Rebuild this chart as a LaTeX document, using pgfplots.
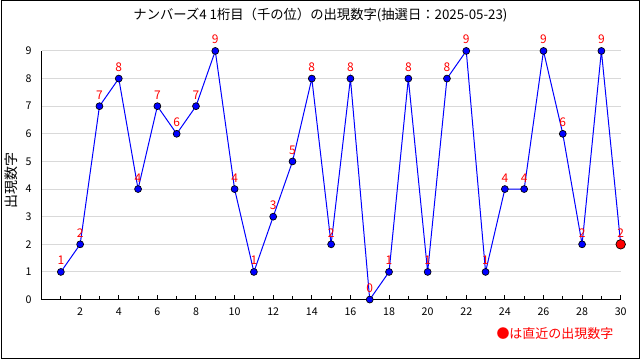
\documentclass[border=0pt]{standalone}
\usepackage{fontspec}
\setmainfont{Noto Sans CJK JP}
\usepackage{pgfplots}
\pgfplotsset{compat=1.18}
\begin{document}
\begin{tikzpicture}[x=1pt,y=1pt]
\draw[line width=0.75pt] (0.375,0.375) rectangle (479.625,269.625);
\begin{axis}[
  at={(30.5pt,45pt)}, anchor=south west, scale only axis,
  width=435pt, height=186.75pt,
  xmin=0, xmax=30, ymin=0, ymax=9,
  axis x line*=bottom, axis y line*=left,
  axis line style={-, line width=0.75pt},
  xtick={2,4,...,30}, minor xtick={1,3,...,29},
  ytick={0,1,...,9},
  tick align=inside,
  major tick length=3.75pt, minor tick length=2.5pt,
  ytick style={draw=none},
  xtick style={black, line width=0.75pt},
  ymajorgrids, grid style={black!15, line width=0.75pt},
  tick label style={font=\fontsize{8}{9}\selectfont},
  xticklabel style={yshift=-3pt},
  yticklabel style={xshift=-4pt},
  /pgf/number format/assume math mode=true,
  clip=false,
]
\addplot[blue, line width=0.75pt, mark=*, mark size=2.6pt,
  mark options={fill=blue, draw=black, line width=0.5pt},
  nodes near coords,
  every node near coord/.style={font=\fontsize{9}{10}\selectfont, text=red, anchor=center, yshift=8.5pt}]
coordinates {
(1,1) (2,2) (3,7) (4,8) (5,4) (6,7) (7,6) (8,7) (9,9) (10,4)
(11,1) (12,3) (13,5) (14,8) (15,2) (16,8) (17,0) (18,1) (19,8) (20,1)
(21,8) (22,9) (23,1) (24,4) (25,4) (26,9) (27,6) (28,2) (29,9) (30,2)
};
\addplot[only marks, mark=*, mark size=3.6pt,
  mark options={fill=red, draw=black, line width=0.5pt}]
coordinates {(30,2)};
\end{axis}
\node[font=\fontsize{10}{12}\selectfont] at (240,258.75) {ナンバーズ4 1桁目（千の位）の出現数字(抽選日：2025-05-23)};
\node[rotate=90, font=\fontsize{10.5}{12}\selectfont] at (7.5,134.5) {出現数字};
\node[anchor=east, text=red, font=\fontsize{9.75}{11}\selectfont] at (463.5,19.5) {●は直近の出現数字};
\end{tikzpicture}
\end{document}
